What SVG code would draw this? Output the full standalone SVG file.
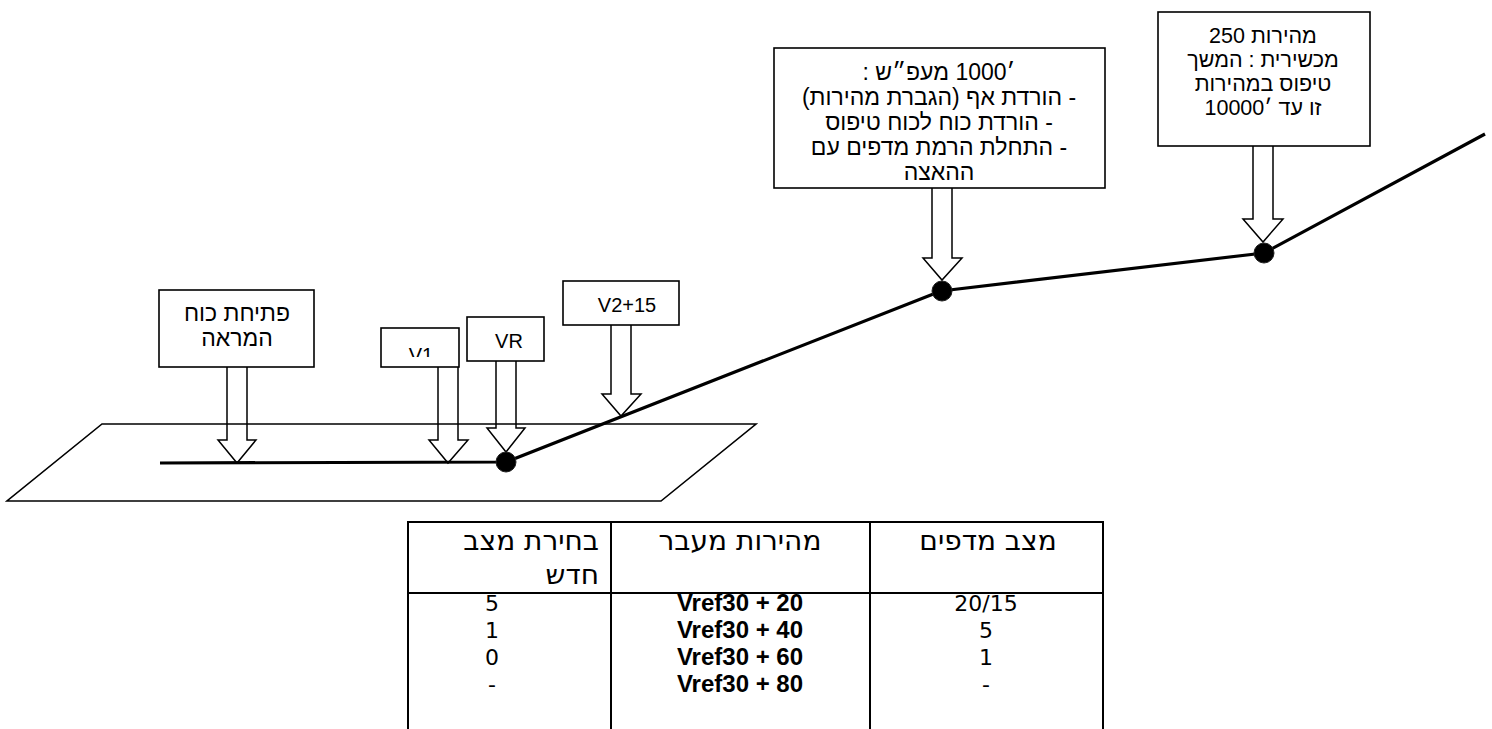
<svg xmlns="http://www.w3.org/2000/svg" width="1492" height="729" viewBox="0 0 1492 729">
<style>
.box{fill:#fff;stroke:#000;stroke-width:1.6}
.arr{fill:none;stroke:#000;stroke-width:1.5;stroke-linejoin:miter}
.path{fill:none;stroke:#000;stroke-width:3.2;stroke-linejoin:round}
.plane{fill:none;stroke:#000;stroke-width:1.6}
.dot{fill:#000;stroke:#222;stroke-width:1}
.t{font-family:"Liberation Sans",Arial,sans-serif;font-size:20px;fill:#000;text-anchor:middle}
.h{font-family:"Liberation Sans",Arial,sans-serif;font-size:23px;fill:#000;text-anchor:middle;direction:rtl;unicode-bidi:embed}
.h2{font-family:"Liberation Sans",Arial,sans-serif;font-size:21.5px;fill:#000;text-anchor:middle;direction:rtl;unicode-bidi:embed}
.th{font-family:"DejaVu Sans","Liberation Sans",sans-serif;font-size:28px;fill:#000;text-anchor:middle;direction:rtl;unicode-bidi:embed}
.td{font-family:"DejaVu Sans","Liberation Sans",sans-serif;font-size:22px;fill:#000;text-anchor:middle}
.tb{font-family:"Liberation Sans",Arial,sans-serif;font-size:24px;font-weight:bold;fill:#000;text-anchor:middle}
.grid{stroke:#000;stroke-width:2;fill:none}
</style>
<defs>
<clipPath id="clipV1"><rect x="382" y="329" width="76" height="28"/></clipPath>
</defs>

<g id="ground">
<polygon class="plane" points="102,424 756,424 661,501 7,501"/>
</g>

<g id="connectors">
<polyline class="path" points="160,463 506,462 941,291 1264,253 1485,134"/>
<path class="arr" d="M227,367 V440 H218 L237,463 L256,440 H247 V367"/>
<path class="arr" d="M438,367 V440 H429 L448,463 L468,440 H458 V367"/>
<path class="arr" d="M496,361 V428 H487 L506,452 L525,428 H516 V361"/>
<path class="arr" d="M611,325 V394 H602 L621,416 L641,394 H631 V325"/>
<path class="arr" d="M932,188 V258 H923 L942,280 L962,258 H952 V188"/>
<path class="arr" d="M1253,146 V219 H1243 L1263,242 L1283,219 H1273 V146"/>
</g>

<g id="dots">
<circle class="dot" cx="506" cy="462" r="10"/>
<circle class="dot" cx="942" cy="291" r="10"/>
<circle class="dot" cx="1264" cy="253" r="10"/>
</g>

<g id="node-takeoff">
<rect class="box" x="159" y="290" width="155" height="77"/>
<text class="h" x="237" y="321">פתיחת כוח</text>
<text class="h" x="237" y="346">המראה</text>
</g>

<g id="node-v1">
<rect class="box" x="381" y="328" width="78" height="39"/>
<text class="t" x="421" y="362" clip-path="url(#clipV1)">V1</text>
</g>

<g id="node-vr">
<rect class="box" x="467" y="317" width="77" height="44"/>
<text class="t" x="509" y="348">VR</text>
</g>

<g id="node-v2">
<rect class="box" x="563" y="281" width="116" height="44"/>
<text class="t" x="627" y="312">V2+15</text>
</g>

<g id="node-1000">
<rect class="box" x="774" y="48" width="331" height="140"/>
<text class="h" x="939" y="80">׳1000 מעפ״ש :</text>
<text class="h" x="939" y="105">- הורדת אף (הגברת מהירות)</text>
<text class="h" x="939" y="130">- הורדת כוח לכוח טיפוס</text>
<text class="h" x="939" y="155">- התחלת הרמת מדפים עם</text>
<text class="h" x="939" y="180">ההאצה</text>
</g>

<g id="node-250">
<rect class="box" x="1158" y="12" width="212" height="134"/>
<text class="h2" x="1263" y="43">מהירות 250</text>
<text class="h2" x="1263" y="67">מכשירית : המשך</text>
<text class="h2" x="1263" y="91">טיפוס במהירות</text>
<text class="h2" x="1263" y="115">זו עד ׳10000</text>
</g>

<g id="table">
<line class="grid" x1="407" y1="522" x2="1104" y2="522"/>
<line class="grid" x1="407" y1="593" x2="1104" y2="593"/>
<line class="grid" x1="408" y1="521" x2="408" y2="729"/>
<line class="grid" x1="611" y1="521" x2="611" y2="729"/>
<line class="grid" x1="870" y1="521" x2="870" y2="729"/>
<line class="grid" x1="1103" y1="521" x2="1103" y2="729"/>
<text class="th" x="599" y="550" style="text-anchor:start">בחירת מצב</text>
<text class="th" x="599" y="584" style="text-anchor:start">חדש</text>
<text class="th" x="740" y="550">מהירות מעבר</text>
<text class="th" x="988" y="550">מצב מדפים</text>
<text class="td" x="492" y="611">5</text>
<text class="td" x="492" y="638">1</text>
<text class="td" x="492" y="665">0</text>
<text class="td" x="492" y="692">-</text>
<text class="tb" x="740" y="611">Vref30 + 20</text>
<text class="tb" x="740" y="638">Vref30 + 40</text>
<text class="tb" x="740" y="665">Vref30 + 60</text>
<text class="tb" x="740" y="692">Vref30 + 80</text>
<text class="td" x="986" y="611">20/15</text>
<text class="td" x="986" y="638">5</text>
<text class="td" x="986" y="665">1</text>
<text class="td" x="986" y="692">-</text>
</g>
</svg>
